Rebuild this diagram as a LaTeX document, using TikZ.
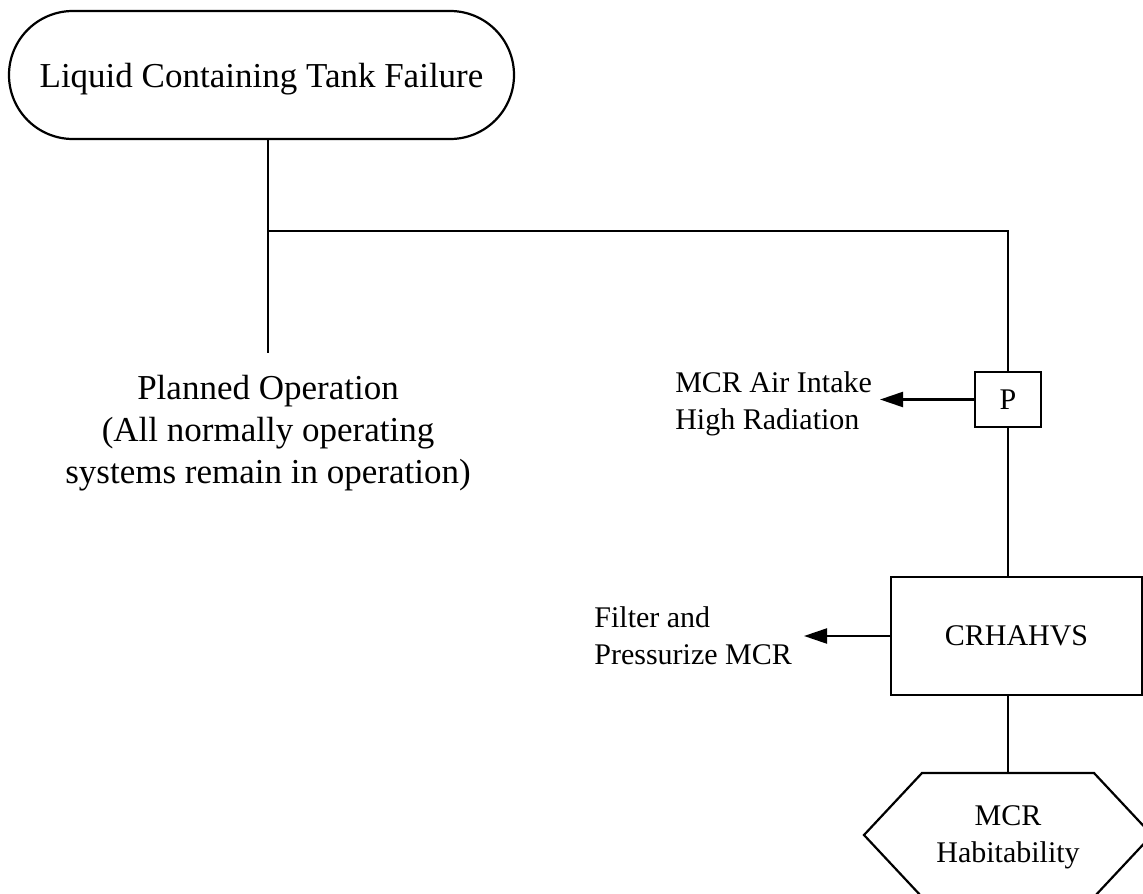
\documentclass[tikz,border=0pt]{standalone}
\usepackage{fontspec}
\setmainfont{Liberation Serif}
\usetikzlibrary{arrows.meta}
\begin{document}
\begin{tikzpicture}[x=1pt,y=-1pt,line width=2.2pt,
  big/.style={font=\fontsize{35}{42}\selectfont},
  small/.style={font=\fontsize{30}{37}\selectfont},
  arr/.style={-{Triangle[length=23pt,width=15pt]}},
  boxed/.style={draw,inner sep=0pt}]
\useasboundingbox (0,0) rectangle (1143,894);
\clip (0,0) rectangle (1143,894);
% top terminal
\node[boxed,big,rounded corners=63.9pt,minimum width=505pt,minimum height=128pt,
      text height=24pt,text depth=0pt] (term) at (261.5,75) {Liquid Containing Tank Failure};
% planned operation
\node[big,align=center,anchor=north,inner xsep=0pt,inner ysep=21pt] (plan) at (268,353)
  {Planned Operation\\(All normally operating\\systems remain in operation)};
\coordinate (j1) at (268,231);
\draw (term.south -| plan.north) -- (plan.north);
% P box
\node[boxed,small,minimum width=66pt,minimum height=55pt] (p) at (1008,399.5) {P};
\draw (j1) -| (p.north);
\node[small,align=left,anchor=north east,inner xsep=7pt,inner ysep=0pt] (l1) at (880,371)
  {MCR Air Intake\\High Radiation};
\draw[arr] (p.west) -- (p.west -| l1.east);
% CRHAHVS
\node[boxed,small,minimum width=251pt,minimum height=118pt] (crh) at (1016.5,636) {CRHAHVS};
\draw (p.south) -- (p.south |- crh.north);
\node[small,align=left,anchor=north east,inner xsep=11pt,inner ysep=0pt] (l2) at (804,605.5)
  {Filter and\\Pressurize MCR};
\draw[arr] (crh.west) -- (crh.west -| l2.east);
% habitability hexagon
\node[small,align=center,anchor=north,inner sep=0pt] (hab) at (1008,805) {MCR\\Habitability};
\coordinate (ht) at (1008,773);
\draw (crh.south -| p.south) -- (ht);
\draw (ht) -- ++(86,0) -- ++(58,62) -- ++(-58,62) -- ++(-172,0) -- ++(-58,-62) -- ++(58,-62) -- cycle;
\end{tikzpicture}
\end{document}
